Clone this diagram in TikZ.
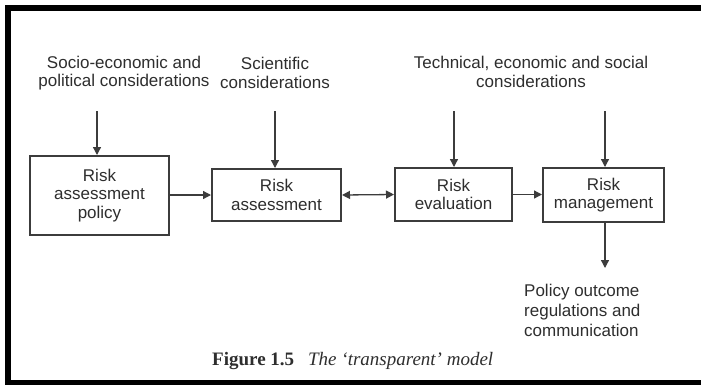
\documentclass[tikz,border=0pt]{standalone}
\usepackage{fontspec}
\setmainfont{Liberation Serif}
\setsansfont{Liberation Sans}
\usetikzlibrary{arrows.meta}
\definecolor{ink}{HTML}{2E2E2E}
\definecolor{edge}{HTML}{3C3C3C}
\tikzset{
  stagebox/.style={draw=edge, line width=2pt, inner sep=0pt, align=center,
    text=ink, font=\sffamily\fontsize{17}{18.5}\selectfont},
  inlabel/.style={inner sep=0pt, align=center, text=ink,
    font=\sffamily\fontsize{17}{18.5}\selectfont},
  flow/.style={draw=edge, line width=1.3pt,
    -{Triangle[length=8pt,width=8pt]}},
  twoway/.style={draw=edge, line width=1.3pt,
    {Triangle[length=8pt,width=8pt]}-{Triangle[length=8pt,width=8pt]}}
}
\begin{document}
\begin{tikzpicture}[x=1pt,y=-1pt]
\useasboundingbox (0,0) rectangle (701,384);
\fill[white] (0,0) rectangle (701,384);
% open frame: left, top and bottom rules
\begin{scope}
  \clip (0,0) rectangle (701,384);
  \draw[black, line width=6pt] (720,8) -- (8,8) -- (8,383) -- (720,383);
\end{scope}

% process stages
\node[stagebox, minimum width=139pt, minimum height=79pt] (b1) at (99.5,195.5)
  {Risk\\assessment\\policy};
\node[stagebox, minimum width=129pt, minimum height=52pt] (b2) at (276.5,195)
  {Risk\\assessment};
\node[stagebox, minimum width=117pt, minimum height=53pt] (b3) at (453.5,194.5)
  {Risk\\evaluation};
\node[stagebox, minimum width=121pt, minimum height=54pt] (b4) at (603.5,195)
  {Risk\\management};

% inputs
\node[inlabel] (l1) at (124,73) {Socio-economic and\\political considerations};
\node[inlabel] (l2) at (275,73) {Scientific\\considerations};
\node[inlabel] (l3) at (531,72) {Technical, economic and social\\considerations};
\node[inlabel, align=left, anchor=north west,
  font=\sffamily\fontsize{17}{20}\selectfont] (l4) at (524,284)
  {Policy outcome\\regulations and\\communication};

% arrow start points
\coordinate (t1) at (97,111);
\coordinate (t2) at (275,111);
\coordinate (t3) at (454,111);
\coordinate (t4) at (605,111);
\coordinate (o4) at (605,268);

\draw[flow] (t1) -- (t1 |- b1.north);
\draw[flow] (t2) -- (t2 |- b2.north);
\draw[flow] (t3) -- (t3 |- b3.north);
\draw[flow] (t4) -- (t4 |- b4.north);
\draw[flow] (o4 |- b4.south) -- (o4);

\draw[flow] (b1.east |- b2.west) -- (b2.west);
\draw[twoway] (b2.east) -- (b3.west);
\draw[flow] (b3.east) -- (b3.east -| b4.west);

% caption
\node[anchor=base west, inner sep=0pt, text=ink, font=\fontsize{19}{20}\selectfont] (cap) at (212,365)
  {\textbf{Figure 1.5}\hspace{14pt}\textit{The `transparent' model}};
\end{tikzpicture}
\end{document}
